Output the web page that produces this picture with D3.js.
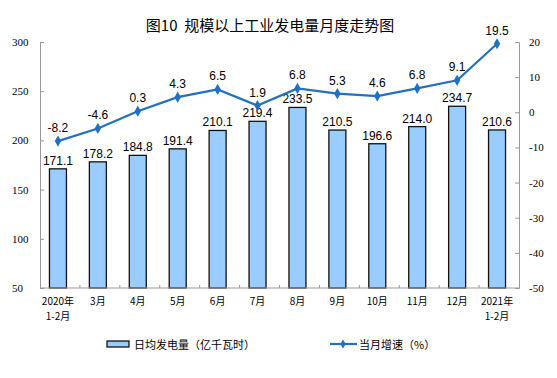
<!DOCTYPE html>
<html>
<head>
<meta charset="utf-8">
<script src="https://cdn.jsdelivr.net/npm/d3@7"></script>
<style>
body { margin: 0; background: #fff; }
text { font-family: "Liberation Sans", Arial, "Noto Sans CJK SC", sans-serif; }
</style>
</head>
<body>
<div id="plot"></div>
<script>
var months = ["2020年\n1-2月", "3月", "4月", "5月", "6月", "7月", "8月", "9月", "10月", "11月", "12月", "2021年\n1-2月"];
var dailyOutput = [171.1, 178.2, 184.8, 191.4, 210.1, 219.4, 233.5, 210.5, 196.6, 214.0, 234.7, 210.6];
var growth = [-8.2, -4.6, 0.3, 4.3, 6.5, 1.9, 6.8, 5.3, 4.6, 6.8, 9.1, 19.5];
var leftTicks = [50, 100, 150, 200, 250, 300];
var rightTicks = [-50, -40, -30, -20, -10, 0, 10, 20];

var margin = { top: 42, right: 38, bottom: 90, left: 40 },
	width = 557 - margin.left - margin.right, height = 378 - margin.top - margin.bottom;

var svg = d3.select("#plot")
	.append("svg")
	.attr("width", 557)
	.attr("height", 378);

// title
svg.append("text")
	.attr("x", 270).attr("y", 31)
	.attr("text-anchor", "middle")
	.style("font-family", "'Noto Sans CJK SC', sans-serif")
	.style("font-size", "15px")
	.text("图10 \u00a0规模以上工业发电量月度走势图");

var g = svg.append("g")
	.attr("transform", "translate(" + margin.left + "," + margin.top + ")");

var xScale = d3.scaleBand()
	.domain(d3.range(months.length))
	.range([0, width]);

var yLeft = d3.scaleLinear().domain([50, 300]).range([height, 0]);
var yRight = d3.scaleLinear().domain([-50, 20]).range([height, 0]);

var barW = 17;

//bars
g.selectAll("rect.bar")
	.data(dailyOutput)
	.enter().append("rect")
	.attr("class", "bar")
	.attr("x", function (d, i) { return xScale(i) + xScale.bandwidth() / 2 - barW / 2 - 2; })
	.attr("y", function (d) { return yLeft(d); })
	.attr("width", barW)
	.attr("height", function (d) { return height - yLeft(d); })
	.attr("fill", "#99CCFF")
	.attr("stroke", "#111")
	.attr("stroke-width", 1.3);

g.selectAll("text.barlab")
	.data(dailyOutput)
	.enter().append("text")
	.attr("x", function (d, i) { return xScale(i) + xScale.bandwidth() / 2 - 2; })
	.attr("y", function (d) { return yLeft(d) - 4; })
	.attr("text-anchor", "middle")
	.style("font-size", "12px")
	.text(function (d) { return d.toFixed(1); });

//axes
var axisColour = "#999";
var leftAxis = g.append("g")
	.call(d3.axisRight(yLeft).tickValues(leftTicks).tickSize(4).tickFormat(function (d) { return String(d); }));
leftAxis.selectAll("text").attr("x", -28).attr("text-anchor", "start")
	.style("font-family", "'Liberation Serif', serif").style("font-size", "11px").attr("fill", "#000");

var rightAxis = g.append("g")
	.attr("transform", "translate(" + width + ",0)")
	.call(d3.axisLeft(yRight).tickValues(rightTicks).tickSize(4).tickFormat(function (d) { return String(d); }));
rightAxis.selectAll("text").attr("x", 10).attr("text-anchor", "start")
	.style("font-family", "'Liberation Serif', serif").style("font-size", "11px").attr("fill", "#000");

var bottomAxis = g.append("g")
	.attr("transform", "translate(0," + height + ")");
bottomAxis.append("line")
	.attr("x1", 0).attr("x2", width).attr("y1", 0).attr("y2", 0)
	.attr("stroke", axisColour);
bottomAxis.selectAll("line.tick")
	.data(d3.range(1, months.length))
	.enter().append("line")
	.attr("class", "tick")
	.attr("x1", function (d) { return xScale(d); })
	.attr("x2", function (d) { return xScale(d); })
	.attr("y1", 0).attr("y2", -3)
	.attr("stroke", axisColour);

var xl = bottomAxis.selectAll("text.xlab")
	.data(months)
	.enter().append("text")
	.attr("class", "xlab")
	.attr("text-anchor", "middle")
	.style("font-family", "'Noto Sans CJK SC', sans-serif")
	.style("font-size", "10px")
	.attr("transform", function (d, i) { return "translate(" + (xScale(i) + xScale.bandwidth() / 2 - 2) + ",0)"; });
xl.each(function (d) {
	var lines = d.split("\n");
	var t = d3.select(this);
	lines.forEach(function (s, k) {
		t.append("tspan").attr("x", 0).attr("y", 17 + k * 15).text(s);
	});
});

[leftAxis, rightAxis].forEach(function (a) {
	a.select(".domain").attr("stroke", axisColour);
	a.selectAll(".tick line").attr("stroke", axisColour);
});

//growth line
var lineColour = "#2370C0";
var line = d3.line()
	.x(function (d, i) { return xScale(i) + xScale.bandwidth() / 2 - 2; })
	.y(function (d) { return yRight(d); });

g.append("path")
	.datum(growth)
	.attr("d", line)
	.attr("fill", "none")
	.attr("stroke", lineColour)
	.attr("stroke-width", 2.2);

g.selectAll("path.marker")
	.data(growth)
	.enter().append("path")
	.attr("class", "marker")
	.attr("d", d3.symbol().type(d3.symbolDiamond).size(36))
	.attr("transform", function (d, i) { return "translate(" + (xScale(i) + xScale.bandwidth() / 2 - 2) + "," + yRight(d) + ")"; })
	.attr("fill", lineColour);

g.selectAll("text.linelab")
	.data(growth)
	.enter().append("text")
	.attr("x", function (d, i) { return xScale(i) + xScale.bandwidth() / 2 - 2; })
	.attr("y", function (d) { return yRight(d) - 9; })
	.attr("text-anchor", "middle")
	.style("font-size", "12px")
	.text(function (d) { return d.toFixed(1); });

//legend
var legend = svg.append("g").attr("transform", "translate(0,345)");
legend.append("rect")
	.attr("x", 107).attr("y", -4).attr("width", 22).attr("height", 6)
	.attr("fill", "#99CCFF").attr("stroke", "#111").attr("stroke-width", 1.3);
legend.append("text")
	.attr("x", 134).attr("y", 4)
	.style("font-family", "'Noto Sans CJK SC', sans-serif")
	.style("font-size", "11px")
	.text("日均发电量（亿千瓦时）");
legend.append("line")
	.attr("x1", 330).attr("x2", 357).attr("y1", -1).attr("y2", -1)
	.attr("stroke", lineColour).attr("stroke-width", 2.2);
legend.append("path")
	.attr("d", d3.symbol().type(d3.symbolDiamond).size(24))
	.attr("transform", "translate(343,-1)")
	.attr("fill", lineColour);
legend.append("text")
	.attr("x", 359).attr("y", 4)
	.style("font-family", "'Noto Sans CJK SC', sans-serif")
	.style("font-size", "11px")
	.text("当月增速（%）");
</script>
</body>
</html>
